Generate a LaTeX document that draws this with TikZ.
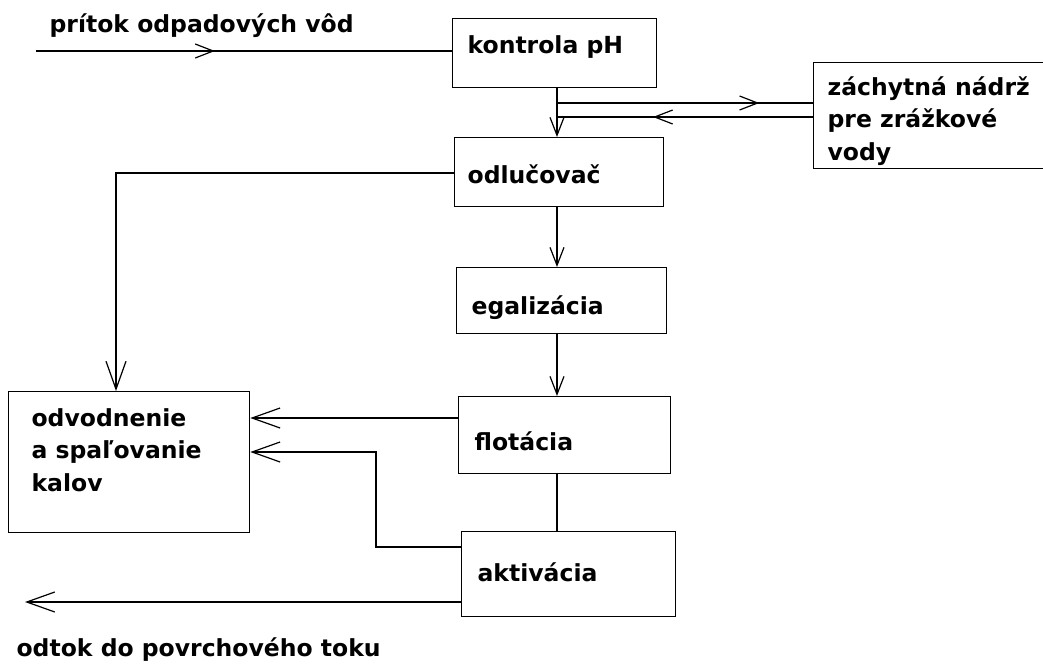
\documentclass[tikz,border=0pt]{standalone}
\usepackage{fontspec}
\setmainfont{DejaVu Sans}
\usetikzlibrary{arrows.meta,decorations.markings}

\begin{document}
\begin{tikzpicture}[x=1pt, y=-1pt, line width=1.2pt,
  box/.style={draw, line width=1.3pt, inner sep=0pt, anchor=north west},
  lbl/.style={anchor=base west, inner sep=0pt, align=left,
    font=\bfseries\fontsize{23.5}{32.5}\selectfont},
  flowtip/.tip={Straight Barb[length=28pt, width=20pt]},
  smalltip/.tip={Straight Barb[length=18pt, width=14pt]},
  midarrow/.style={postaction={decorate},
    decoration={markings, mark=at position #1 with {\arrow{smalltip}}}}]
  \useasboundingbox (0,0) rectangle (1043,664);

  \node[box, minimum width=204pt, minimum height=69pt] (kontrola) at (452,18) {};
  \node[box, minimum width=230pt, minimum height=106pt] (zachytna) at (813,62) {};
  \node[box, minimum width=209pt, minimum height=69pt] (odlucovac) at (454,137) {};
  \node[box, minimum width=210pt, minimum height=66pt] (egalizacia) at (456,267) {};
  \node[box, minimum width=212pt, minimum height=77pt] (flotacia) at (458,396) {};
  \node[box, minimum width=214pt, minimum height=85pt] (aktivacia) at (461,531) {};
  \node[box, minimum width=241pt, minimum height=141pt] (odvodnenie) at (8,391) {};

  \node[lbl] (pritok) at (49,32) {prítok odpadových vôd};
  \node[lbl] (kontrolaT) at (467,53) {kontrola pH};
  \node[lbl] (zachytnaT) at (827,160) {záchytná nádrž\\pre zrážkové\\vody};
  \node[lbl] (odlucovacT) at (467,183) {odlučovač};
  \node[lbl] (egalizaciaT) at (471,314) {egalizácia};
  \node[lbl] (flotaciaT) at (474,450) {flotácia};
  \node[lbl] (aktivaciaT) at (477,581) {aktivácia};
  \node[lbl] (odvodnenieT) at (31,491) {odvodnenie\\a spaľovanie\\kalov};
  \node[lbl] (odtok) at (16,656) {odtok do povrchového toku};

  \coordinate (in) at (36,51);
  \coordinate (split) at (557,103);
  \coordinate (back) at (557,117);
  \coordinate (sludge) at (116,173);
  \coordinate (act) at (376,547);
  \coordinate (outlet) at (25,602);

  \draw[midarrow=0.43] (in) -- (in -| kontrola.west);
  \draw[-{smalltip}] (kontrola.south -| split) -- (odlucovac.north -| split);
  \draw[midarrow=0.79] (split) -- (split -| zachytna.west);
  \draw[midarrow=0.625] (back -| zachytna.west) -- (back);
  \draw[-{flowtip}] (sludge -| odlucovac.west) -- (sludge) -- (sludge |- odvodnenie.north);
  \draw[-{smalltip}] (odlucovac.south -| split) -- (egalizacia.north -| split);
  \draw[-{smalltip}] (egalizacia.south -| split) -- (flotacia.north -| split);
  \draw (flotacia.south -| split) -- (aktivacia.north -| split);
  \draw[-{flowtip}] (flotacia.west |- 0,418) -- (odvodnenie.east |- 0,418);
  \draw[-{flowtip}] (aktivacia.west |- act) -- (act) |- (odvodnenie.east |- 0,452);
  \draw[-{flowtip}] (aktivacia.west |- outlet) -- (outlet);
\end{tikzpicture}
\end{document}
